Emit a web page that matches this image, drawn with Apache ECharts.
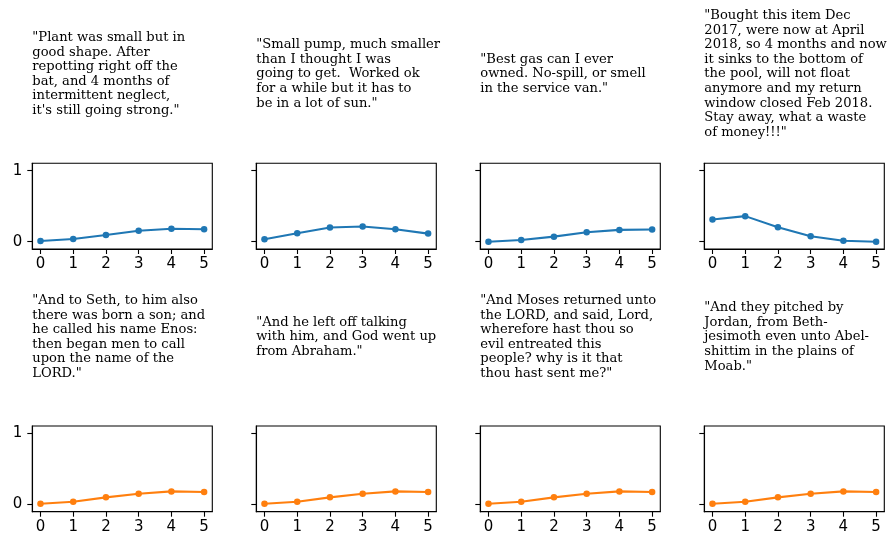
<!DOCTYPE html>
<html>
<head>
<meta charset="utf-8">
<script src="https://cdn.jsdelivr.net/npm/echarts@6/dist/echarts.min.js"></script>
<style>
  html, body { margin: 0; padding: 0; background: #fff; }
  #chart { width: 890px; height: 540px; }
</style>
</head>
<body>
<div id="chart"></div>
<script>
// x positions shared by every panel
const xValues = [0, 1, 2, 3, 4, 5];
const xTicks = [0, 1, 2, 3, 4, 5];
const yTicks = [0, 1];

// top row: review texts (blue)
const reviewTexts = [
  '"Plant was small but in\ngood shape. After\nrepotting right off the\nbat, and 4 months of\nintermittent neglect,\nit\'s still going strong."',
  '"Small pump, much smaller\nthan I thought I was\ngoing to get.  Worked ok\nfor a while but it has to\nbe in a lot of sun."',
  '"Best gas can I ever\nowned. No-spill, or smell\nin the service van."',
  '"Bought this item Dec\n2017, were now at April\n2018, so 4 months and now\nit sinks to the bottom of\nthe pool, will not float\nanymore and my return\nwindow closed Feb 2018.\nStay away, what a waste\nof money!!!"'
];
const review1 = [0.01, 0.038, 0.094, 0.155, 0.183, 0.175];
const review2 = [0.035, 0.118, 0.2, 0.213, 0.175, 0.114];
const review3 = [0.0, 0.024, 0.071, 0.133, 0.166, 0.171];
const review4 = [0.313, 0.36, 0.204, 0.076, 0.014, 0.0];

// bottom row: verse texts (orange)
const verseTexts = [
  '"And to Seth, to him also\nthere was born a son; and\nhe called his name Enos:\nthen began men to call\nupon the name of the\nLORD."',
  '"And he left off talking\nwith him, and God went up\nfrom Abraham."',
  '"And Moses returned unto\nthe LORD, and said, Lord,\nwherefore hast thou so\nevil entreated this\npeople? why is it that\nthou hast sent me?"',
  '"And they pitched by\nJordan, from Beth-\njesimoth even unto Abel-\nshittim in the plains of\nMoab."'
];
const verse1 = [0.009, 0.038, 0.099, 0.15, 0.183, 0.174];
const verse2 = [0.009, 0.038, 0.099, 0.15, 0.183, 0.174];
const verse3 = [0.009, 0.038, 0.099, 0.15, 0.183, 0.174];
const verse4 = [0.009, 0.038, 0.099, 0.15, 0.183, 0.174];

const rows = [
  { texts: reviewTexts, values: [review1, review2, review3, review4], color: '#1f77b4' },
  { texts: verseTexts, values: [verse1, verse2, verse3, verse4], color: '#ff7f0e' }
];

// panel layout
const colLeft = [32.3, 256.3, 480.3, 704.3];
const panelWidth = 180;
const rowTop = [163.3, 426];
const panelHeight = 85.7;
const textCenter = [74, 337];

const tickFont = { fontFamily: 'DejaVu Sans', fontSize: 15, color: '#000' };

const grids = [], xAxes = [], yAxes = [], series = [], graphics = [];
let idx = 0;
rows.forEach((row, r) => {
  row.values.forEach((vals, c) => {
    grids.push({
      left: colLeft[c], top: rowTop[r], width: panelWidth, height: panelHeight,
      show: true, borderColor: '#000', borderWidth: 1.1, backgroundColor: 'transparent'
    });
    xAxes.push({
      type: 'value', gridIndex: idx, min: -0.25, max: 5.25,
      axisLine: { show: true, onZero: false, lineStyle: { color: '#000', width: 1.1 } },
      axisTick: { show: true, length: 5, customValues: xTicks, lineStyle: { color: '#000', width: 1.1 } },
      axisLabel: Object.assign({ margin: 8, customValues: xTicks, formatter: v => String(v) }, tickFont),
      splitLine: { show: false }
    });
    yAxes.push({
      type: 'value', gridIndex: idx, min: -0.103, max: 1.104,
      axisLine: { show: true, onZero: false, lineStyle: { color: '#000', width: 1.1 } },
      axisTick: { show: true, length: 5, customValues: yTicks, lineStyle: { color: '#000', width: 1.1 } },
      axisLabel: Object.assign({ show: c === 0, margin: 10, customValues: yTicks, formatter: v => String(v) }, tickFont),
      splitLine: { show: false }
    });
    series.push({
      type: 'line', xAxisIndex: idx, yAxisIndex: idx,
      data: xValues.map((x, i) => [x, vals[i]]),
      symbol: 'circle', symbolSize: 6.5,
      lineStyle: { color: row.color, width: 2.1 },
      itemStyle: { color: row.color },
      silent: true, animation: false
    });
    graphics.push({
      type: 'text', x: colLeft[c], y: textCenter[r],
      style: {
        text: row.texts[c], fill: '#000',
        fontFamily: 'DejaVu Serif', fontSize: 13.1, lineHeight: 14.6,
        align: 'left', verticalAlign: 'middle'
      }
    });
    idx++;
  });
});

const chart = echarts.init(document.getElementById('chart'), null, { renderer: 'canvas' });
chart.setOption({
  animation: false,
  backgroundColor: '#fff',
  grid: grids,
  xAxis: xAxes,
  yAxis: yAxes,
  series: series,
  graphic: graphics
});
</script>
</body>
</html>
